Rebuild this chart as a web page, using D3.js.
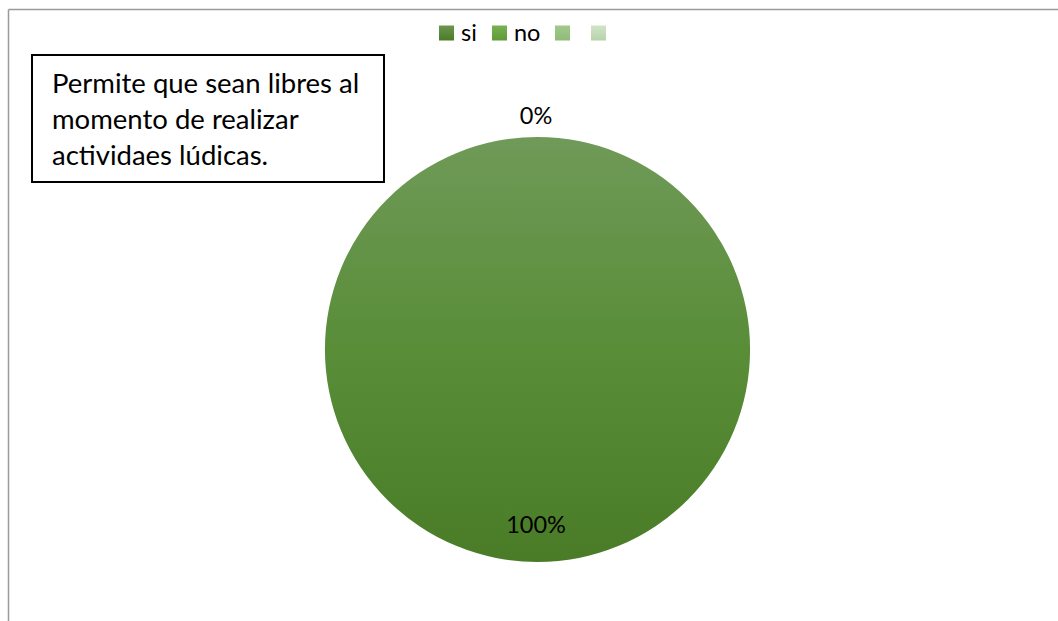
<!DOCTYPE html>
<html>
<head>
<meta charset="utf-8">
<script src="https://cdn.jsdelivr.net/npm/d3@7"></script>
<style>
html,body{margin:0;padding:0;background:#fff;}
svg{display:block;font-family:Lato,"Open Sans",sans-serif;}
</style>
</head>
<body>
<svg id="chart" width="1058" height="621"></svg>
<script>
const categories = ["si", "no", "", ""];
const values = [100, 0, 0, 0];
const percentLabels = ["100%", "0%", "", ""];
const titleLines = ["Permite que sean libres al", "momento de realizar", "actividaes lúdicas."];
const legendColors = [["#6b9650", "#4a7b28"], ["#79b152", "#5f9a35"], ["#a2c98c", "#8fbb77"], ["#d0e4c6", "#b7d3aa"]];

const svg = d3.select("#chart");
const W = 1058, H = 621;

svg.append("line").attr("x1", 8.5).attr("y1", 9.5).attr("x2", W).attr("y2", 9.5).attr("stroke", "#9a9a9a").attr("stroke-width", 1.5);
svg.append("line").attr("x1", 8.5).attr("y1", 9.5).attr("x2", 8.5).attr("y2", H).attr("stroke", "#9a9a9a").attr("stroke-width", 1.5);

const defs = svg.append("defs");
const cx = 537.5, cy = 349.5, r = 212.5;

const pg = defs.append("linearGradient").attr("id", "pieGrad")
  .attr("gradientUnits", "userSpaceOnUse")
  .attr("x1", 0).attr("y1", -r).attr("x2", 0).attr("y2", r);
pg.append("stop").attr("offset", "0%").attr("stop-color", "#6f9a58");
pg.append("stop").attr("offset", "50%").attr("stop-color", "#598d38");
pg.append("stop").attr("offset", "100%").attr("stop-color", "#4a7c27");

legendColors.forEach((c, i) => {
  const g = defs.append("linearGradient").attr("id", "lg" + i).attr("x1", 0).attr("y1", 0).attr("x2", 0).attr("y2", 1);
  g.append("stop").attr("offset", "0%").attr("stop-color", c[0]);
  g.append("stop").attr("offset", "100%").attr("stop-color", c[1]);
});

const pie = d3.pie().sort(null).value(d => d)(values);
const arc = d3.arc().innerRadius(0).outerRadius(r);
const inner = d3.arc().innerRadius(r * 0.826).outerRadius(r * 0.826);
const outer = d3.arc().innerRadius(r * 1.099).outerRadius(r * 1.099);

const pg2 = svg.append("g").attr("transform", `translate(${cx},${cy})`);
pg2.selectAll("path").data(pie).join("path")
  .attr("d", arc)
  .attr("fill", (d, i) => i === 0 ? "url(#pieGrad)" : legendColors[i][1]);

pg2.selectAll("text.lbl").data(pie.slice(0, 2)).join("text")
  .attr("class", "lbl")
  .attr("transform", d => {
    const p = d.value === 100 ? inner.centroid(d) : outer.centroid(d);
    return `translate(${p[0] - 1.5},${p[1]})`;
  })
  .attr("text-anchor", "middle")
  .attr("dy", "0.35em")
  .attr("font-size", 23.5)
  .attr("fill", "#000")
  .text((d, i) => percentLabels[i]);

const legendX = [439, 492, 555, 591];
const lg = svg.append("g");
categories.forEach((c, i) => {
  lg.append("rect").attr("x", legendX[i]).attr("y", 25.5).attr("width", 15).attr("height", 15)
    .attr("fill", "url(#lg" + i + ")");
  if (c) lg.append("text").attr("x", legendX[i] + 22).attr("y", 41).attr("font-size", 23.5).attr("fill", "#000").text(c);
});

svg.append("rect").attr("x", 32).attr("y", 55).attr("width", 352).attr("height", 127)
  .attr("fill", "#fff").attr("stroke", "#000").attr("stroke-width", 2);
titleLines.forEach((t, i) => {
  svg.append("text").attr("x", 52).attr("y", 93 + i * 36).attr("font-size", 27.5).attr("fill", "#000").text(t);
});
</script>
</body>
</html>
